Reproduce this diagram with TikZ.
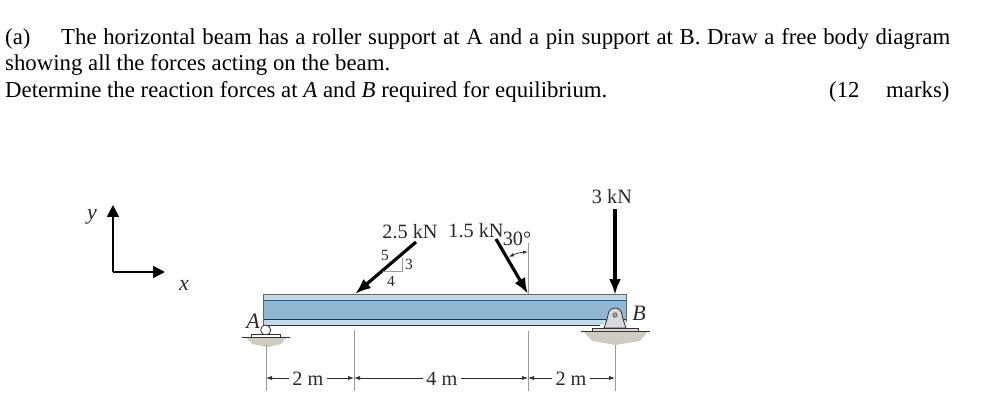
\documentclass[tikz,border=0pt]{standalone}
\usepackage{fontspec}
\setmainfont{Liberation Serif}
\usetikzlibrary{arrows.meta}
\definecolor{beamblue}{HTML}{8FB6D3}
\definecolor{beamlight}{HTML}{C4D9E8}
\definecolor{beamdark}{HTML}{1F5A80}
\definecolor{groundshade}{HTML}{CFCBC0}
\definecolor{dimgray}{HTML}{9A9A9A}
\definecolor{ink}{HTML}{2A2A2A}
\tikzset{
 x=1pt,y=-1pt,
 headtext/.style={anchor=base west,inner sep=0,font=\fontsize{22.8}{26}\selectfont,text=black},
 figtext/.style={inner sep=0,font=\fontsize{20.3}{22}\selectfont,text=ink},
 italtext/.style={inner sep=0,font=\fontsize{22}{24}\selectfont\itshape,text=ink},
 smalltext/.style={inner sep=0,font=\fontsize{15.5}{17}\selectfont,text=ink},
 force/.style={draw=black,line width=3.2pt,-{Latex[length=16pt,width=12pt]}},
 axis/.style={draw=black,line width=1.7pt,-{Triangle[length=12pt,width=12pt]}},
 dimline/.style={draw=dimgray,line width=.9pt},
 dimarrow/.style={draw=ink,line width=.6pt,-{Latex[length=6pt,width=4pt]}},
 thinline/.style={draw=ink,line width=.7pt},
}
\begin{document}
\begin{tikzpicture}
\useasboundingbox (0,0) rectangle (1006,403);
% heading
\node[headtext] (t1a) at (5,45) {(a)};
\node[headtext] (t1b) at (61,45) {\makebox[889pt][s]{The horizontal beam has a roller support at A and a pin support at B. Draw a free body diagram}};
\node[headtext] (t2) at (5,71) {showing all the forces acting on the beam.};
\node[headtext] (t3) at (5,98) {Determine the reaction forces at \textit{A} and \textit{B} required for equilibrium.};
\node[headtext] (t4) at (829,98) {(12};
\node[headtext] (t5) at (886,98) {marks)};
% axes
\coordinate (O) at (113,272);
\coordinate (Yend) at (113,205);
\coordinate (Xend) at (165,272);
\draw[axis] (O) -- (Yend);
\draw[axis] (O) -- (Xend);
\node[italtext] (ylab) at (92,217) {y};
\node[italtext] (xlab) at (184,285) {x};
% ground shade
\fill[groundshade] (245,337) -- (287,337) -- (281,344) -- (268,347) -- (252,344) -- cycle;
\fill[groundshade] (583,331) -- (648,331) -- (640,341) -- (615,345) -- (592,341) -- cycle;
% beam
\fill[beamblue] (263,294) rectangle (626,325);
\fill[beamlight] (263,295) rectangle (626,300);
\fill[beamlight] (263,320) rectangle (626,325);
\fill[white] (602,325) -- (626,325) -- (626,322) -- (606,322) -- cycle;
\draw[beamdark,line width=1.2pt] (263,300.5) -- (626,300.5);
\draw[black!80,line width=.9pt] (263,319.5) -- (626,319.5);
\draw[black!80,line width=.9pt] (263,325) -- (600,325);
\draw[black!60,line width=.9pt] (263,325) -- (263,294) -- (626,294) -- (626,322);
% roller A
\draw[black!80,line width=.8pt,fill=white] (265.7,330) circle (5);
\draw[black!80,line width=.8pt,fill=white] (251,337) -- (251,334) -- (280,334) -- (280,337);
\draw[black!80,line width=1pt] (242,337) -- (290,337);
\node[italtext] (A) at (253,321) {A};
% pin B
\draw[black!80,line width=.8pt,fill=black!15] (604,328) .. controls (606,322) and (607,320) .. (608,315) arc (180:0:7pt) .. controls (623,320) and (624,322) .. (626,328) -- cycle;
\draw[black!70,line width=.6pt,fill=black!35] (615,315) circle (2.2);
\draw[black!80,line width=.8pt,fill=black!15] (592,331) -- (592,328) -- (638,328) -- (638,331);
\draw[black!80,line width=1pt] (581,331) -- (650,331);
\node[italtext] (B) at (639,313) {B};
% 2.5 kN
\coordinate (F1s) at (416,242);
\coordinate (F1e) at (355,294);
\draw[force] (F1s) -- (F1e);
\node[figtext] (F1) at (410,232) {2.5 kN};
\draw[dimline,line width=.7pt] (383,271) -- (402,271) -- (402,258);
\node[smalltext] (five) at (385,256) {5};
\node[smalltext] (three) at (409,264) {3};
\node[smalltext] (four) at (391,281) {4};
% 1.5 kN
\coordinate (F2s) at (496,239);
\coordinate (F2e) at (528,294);
\draw[force] (F2s) -- (F2e);
\draw[dimline,line width=.7pt] (528.5,243) -- (528.5,294);
\node[figtext] (F2) at (476,231) {1.5 kN};
\node[figtext] (ang) at (517,239) {30°};
\coordinate (arcL) at (509,257);
\coordinate (arcR) at (528,252);
\draw[thinline,{Latex[length=5pt,width=3.5pt]}-{Latex[length=5pt,width=3.5pt]}] (arcL) to[bend left=12] (arcR);
% 3 kN
\coordinate (F3s) at (615,209);
\coordinate (F3e) at (615,295);
\draw[force] (F3s) -- (F3e);
\node[figtext] (F3) at (612,197) {3 kN};
% dimensions
\coordinate (d0t) at (266,345); \coordinate (d0b) at (266,391);
\coordinate (d1t) at (354,330); \coordinate (d1b) at (354,391);
\coordinate (d2t) at (528,331); \coordinate (d2b) at (528,391);
\coordinate (d3t) at (615,345); \coordinate (d3b) at (615,391);
\draw[dimline] (d0t) -- (d0b);
\draw[dimline] (d1t) -- (d1b);
\draw[dimline] (d2t) -- (d2b);
\draw[dimline] (d3t) -- (d3b);
\node[figtext] (m1) at (308,379) {2 m};
\node[figtext] (m2) at (442,379) {4 m};
\node[figtext] (m3) at (571,379) {2 m};
\coordinate (y0) at (266,378); \coordinate (y1) at (354,378); \coordinate (y2) at (528,378); \coordinate (y3) at (615,378);
\draw[dimarrow] (m1.west |- y0) ++(-3,0) -- (y0);
\draw[dimarrow] (m1.east |- y1) ++(3,0) -- (y1);
\draw[dimarrow] (m2.west |- y1) ++(-3,0) -- (y1);
\draw[dimarrow] (m2.east |- y2) ++(3,0) -- (y2);
\draw[dimarrow] (m3.west |- y2) ++(-3,0) -- (y2);
\draw[dimarrow] (m3.east |- y3) ++(3,0) -- (y3);
\end{tikzpicture}
\end{document}
